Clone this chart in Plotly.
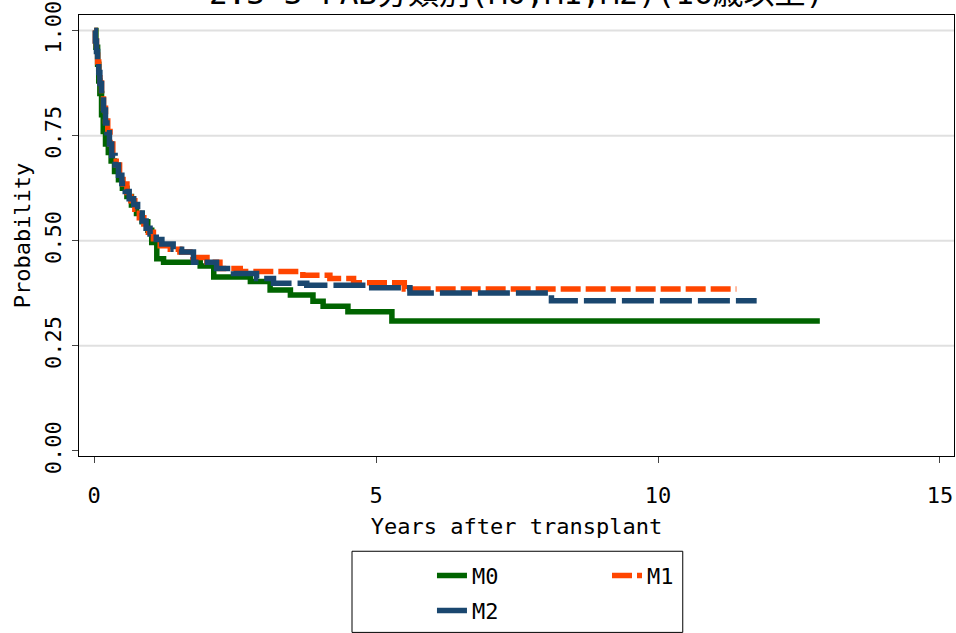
import plotly.graph_objects as go

# Kaplan-Meier estimates (years, probability)
m0_years = [0, 0.03, 0.06, 0.08, 0.1, 0.13, 0.16, 0.2, 0.25, 0.3, 0.36, 0.43, 0.5, 0.58, 0.66,
            0.75, 0.85, 0.95, 1.02, 1.11, 1.23, 1.88, 2.12, 2.77, 3.12, 3.48, 3.88, 4.06, 4.5,
            5.28, 12.87]
m0_prob = [1.0, 0.96, 0.92, 0.88, 0.85, 0.80, 0.76, 0.73, 0.71, 0.69, 0.665, 0.645, 0.625, 0.605,
           0.585, 0.565, 0.545, 0.525, 0.496, 0.457, 0.449, 0.44, 0.414, 0.403, 0.383, 0.371,
           0.356, 0.344, 0.331, 0.309, 0.309]

m1_years = [0, 0.02, 0.04, 0.06, 0.08, 0.1, 0.13, 0.165, 0.2, 0.24, 0.28, 0.33, 0.39, 0.45, 0.51,
            0.58, 0.65, 0.72, 0.8, 0.88, 0.96, 1.05, 1.17, 1.35, 1.52, 1.75, 2.0, 2.23, 2.59,
            3.7, 4.18, 4.6, 5.5, 11.39]
m1_prob = [1.0, 0.975, 0.95, 0.925, 0.90, 0.875, 0.845, 0.815, 0.785, 0.76, 0.73, 0.705, 0.68,
           0.655, 0.635, 0.615, 0.595, 0.575, 0.555, 0.54, 0.52, 0.505, 0.488, 0.48, 0.473, 0.46,
           0.449, 0.434, 0.427, 0.418, 0.41, 0.40, 0.385, 0.385]

m2_years = [0, 0.02, 0.04, 0.06, 0.08, 0.1, 0.13, 0.165, 0.2, 0.225, 0.27, 0.31, 0.37, 0.43, 0.49,
            0.55, 0.62, 0.7, 0.77, 0.85, 0.92, 0.99, 1.1, 1.2, 1.4, 1.55, 1.76, 2.17, 2.47, 2.88,
            3.18, 3.77, 4.84, 5.6, 8.11, 11.75]
m2_prob = [1.0, 0.975, 0.95, 0.925, 0.90, 0.874, 0.845, 0.811, 0.78, 0.757, 0.73, 0.703, 0.68,
           0.656, 0.636, 0.617, 0.60, 0.586, 0.566, 0.547, 0.53, 0.516, 0.503, 0.492, 0.48, 0.473,
           0.449, 0.434, 0.422, 0.41, 0.399, 0.394, 0.388, 0.376, 0.357, 0.357]

x_ticks = [0, 5, 10, 15]
y_ticks = [0, 0.25, 0.5, 0.75, 1.0]
y_labels = ["0.00", "0.25", "0.50", "0.75", "1.00"]

TITLE = "2.3-3 FAB分類別(M0,M1,M2)(16歳以上)"
FONT = "DejaVu Sans Mono, Noto Sans CJK JP"

fig = go.Figure()
fig.add_trace(go.Scatter(x=m0_years, y=m0_prob, name="M0", mode="lines", line_shape="hv",
                         line=dict(color="#006400", width=5.5), legend="legend"))
fig.add_trace(go.Scatter(x=m1_years, y=m1_prob, name="M1", mode="lines", line_shape="hv",
                         line=dict(color="#FF4500", width=5.5, dash="20px,5px"), legend="legend"))
fig.add_trace(go.Scatter(x=m2_years, y=m2_prob, name="M2", mode="lines", line_shape="hv",
                         line=dict(color="#1A476F", width=5.5, dash="32px,6px"), legend="legend2"))

# grid lines (none at zero, like the reference)
shapes = [dict(type="line", xref="paper", yref="y", x0=0, x1=1, y0=v, y1=v,
               line=dict(color="#E0E0E0", width=2), layer="below") for v in y_ticks if v > 0]
# legend box
shapes.append(dict(type="rect", xref="paper", yref="paper", x0=0.312, x1=0.690, y0=-0.216,
                   y1=-0.40, line=dict(color="black", width=1), fillcolor="white", layer="below"))

legend_common = dict(orientation="h", xanchor="left", yanchor="top", bgcolor="rgba(0,0,0,0)",
                     font=dict(family=FONT, size=22, color="black"), entrywidth=130,
                     itemwidth=30, traceorder="normal")

fig.update_layout(
    width=956, height=633,
    margin=dict(l=79, r=2, t=15, b=162),
    paper_bgcolor="white", plot_bgcolor="white",
    font=dict(family=FONT, size=22, color="black"),
    xaxis=dict(range=[-0.27, 15.25], tickvals=x_ticks, ticks="outside", ticklen=6,
               tickfont=dict(size=22), automargin=False,
               showgrid=False, zeroline=False, showline=True, linecolor="black", linewidth=1,
               mirror=True, ticklabelstandoff=14, ticklabeloverflow="allow",
               title=dict(text="Years after transplant", standoff=11, font=dict(size=22))),
    yaxis=dict(range=[-0.012, 1.037], tickvals=y_ticks, ticktext=y_labels, tickangle=-90,
               ticks="outside", ticklen=6, tickfont=dict(size=22), automargin=False,
               showgrid=False, zeroline=False, showline=True, linecolor="black", linewidth=1,
               mirror=True, ticklabelstandoff=2, ticklabeloverflow="allow",
               title=dict(text="Probability", standoff=4, font=dict(size=22))),
    legend=dict(x=0.4034, y=-0.2236, **legend_common),
    legend2=dict(x=0.4034, y=-0.303, **legend_common),
    shapes=shapes,
    annotations=[dict(text=TITLE, xref="paper", yref="paper", x=0.5, y=1.051,
                      xanchor="center", yanchor="middle", showarrow=False,
                      font=dict(family=FONT, size=31, color="black"))],
)

# drop the default 8px page margin so the figure sits at the window's corner
fig.write_html("out.html", config={"displayModeBar": False},
               post_script="document.body.style.margin='0';")
